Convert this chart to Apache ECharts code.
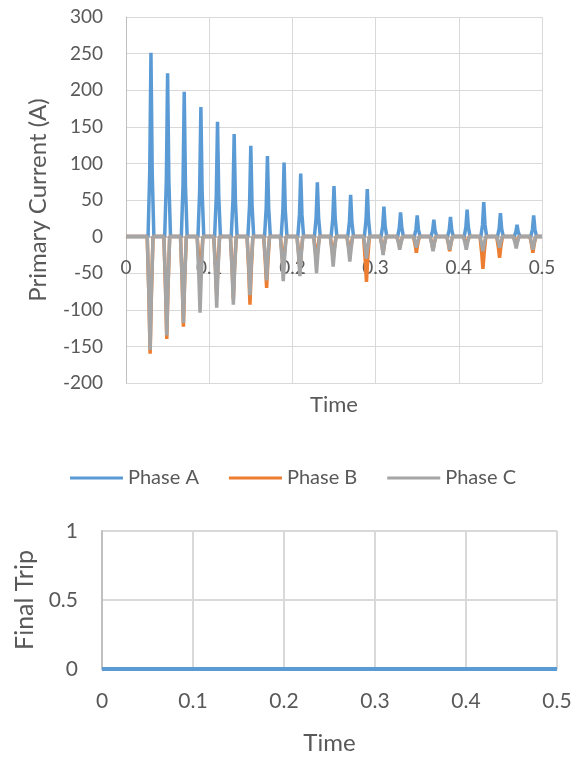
<!DOCTYPE html>
<html style="height: 100%">
   <head>
       <meta charset="utf-8">
   </head>
   <body style="height: 100%;margin: 0;background: #ffffff">
       <div id="container" style="height: 758px; width: 577px;"></div>
       <script type="text/javascript" src="https://cdn.jsdelivr.net/npm/echarts/dist/echarts.min.js"></script>
       <script type="text/javascript">

// phase A : time (s) and primary current (A)
var timeA = [0,
    0.0265, 0.0285, 0.030, 0.0315, 0.0335,
    0.0465, 0.0485, 0.050, 0.0515, 0.0535,
    0.0665, 0.0685, 0.070, 0.0715, 0.0735,
    0.0865, 0.0885, 0.090, 0.0915, 0.0935,
    0.1065, 0.1085, 0.110, 0.1115, 0.1135,
    0.1265, 0.1285, 0.130, 0.1315, 0.1335,
    0.1465, 0.1485, 0.150, 0.1515, 0.1535,
    0.1665, 0.1685, 0.170, 0.1715, 0.1735,
    0.1865, 0.1885, 0.190, 0.1915, 0.1935,
    0.2065, 0.2085, 0.210, 0.2115, 0.2135,
    0.2265, 0.2285, 0.230, 0.2315, 0.2335,
    0.2465, 0.2485, 0.250, 0.2515, 0.2535,
    0.2665, 0.2685, 0.270, 0.2715, 0.2735,
    0.2865, 0.2885, 0.290, 0.2915, 0.2935,
    0.3065, 0.3085, 0.310, 0.3115, 0.3135,
    0.3265, 0.3285, 0.330, 0.3315, 0.3335,
    0.3465, 0.3485, 0.350, 0.3515, 0.3535,
    0.3665, 0.3685, 0.370, 0.3715, 0.3735,
    0.3865, 0.3885, 0.390, 0.3915, 0.3935,
    0.4065, 0.4085, 0.410, 0.4115, 0.4135,
    0.4265, 0.4285, 0.430, 0.4315, 0.4335,
    0.4465, 0.4485, 0.450, 0.4515, 0.4535,
    0.4665, 0.4685, 0.470, 0.4715, 0.4735,
    0.4865, 0.4885, 0.490, 0.4915, 0.4935,
    0.5];
var currentA = [0,
    0, 88, 251, 88, 0,
    0, 78, 223, 78, 0,
    0, 69, 198, 69, 0,
    0, 62, 177, 62, 0,
    0, 55, 157, 55, 0,
    0, 49, 140, 49, 0,
    0, 43, 124, 43, 0,
    0, 39, 110, 39, 0,
    0, 35, 101, 35, 0,
    0, 30, 86, 30, 0,
    0, 26, 74, 26, 0,
    0, 24, 69, 24, 0,
    0, 20, 57, 20, 0,
    0, 23, 65, 23, 0,
    0, 14, 41, 14, 0,
    0, 12, 33, 12, 0,
    0, 10, 29, 10, 0,
    0, 8, 23, 8, 0,
    0, 9, 27, 9, 0,
    0, 13, 37, 13, 0,
    0, 16, 47, 16, 0,
    0, 11, 32, 11, 0,
    0, 6, 16, 6, 0,
    0, 10, 29, 10, 0,
    0];

// phases B and C share one time base
var timeBC = [0,
    0.0255, 0.0275, 0.029, 0.0305, 0.0325,
    0.0455, 0.0475, 0.049, 0.0505, 0.0525,
    0.0655, 0.0675, 0.069, 0.0705, 0.0725,
    0.0855, 0.0875, 0.089, 0.0905, 0.0925,
    0.1055, 0.1075, 0.109, 0.1105, 0.1125,
    0.1255, 0.1275, 0.129, 0.1305, 0.1325,
    0.1455, 0.1475, 0.149, 0.1505, 0.1525,
    0.1655, 0.1675, 0.169, 0.1705, 0.1725,
    0.1855, 0.1875, 0.189, 0.1905, 0.1925,
    0.2055, 0.2075, 0.209, 0.2105, 0.2125,
    0.2255, 0.2275, 0.229, 0.2305, 0.2325,
    0.2455, 0.2475, 0.249, 0.2505, 0.2525,
    0.2655, 0.2675, 0.269, 0.2705, 0.2725,
    0.2855, 0.2875, 0.289, 0.2905, 0.2925,
    0.3055, 0.3075, 0.309, 0.3105, 0.3125,
    0.3255, 0.3275, 0.329, 0.3305, 0.3325,
    0.3455, 0.3475, 0.349, 0.3505, 0.3525,
    0.3655, 0.3675, 0.369, 0.3705, 0.3725,
    0.3855, 0.3875, 0.389, 0.3905, 0.3925,
    0.4055, 0.4075, 0.409, 0.4105, 0.4125,
    0.4255, 0.4275, 0.429, 0.4305, 0.4325,
    0.4455, 0.4475, 0.449, 0.4505, 0.4525,
    0.4655, 0.4675, 0.469, 0.4705, 0.4725,
    0.4855, 0.4875, 0.489, 0.4905, 0.4925,
    0.5];
var currentB = [0,
    0, -80, -160, -80, 0,
    0, -70, -140, -70, 0,
    0, -60, -123, -60, 0,
    0, -30, -60, -30, 0,
    0, -40, -80, -40, 0,
    0, -42, -85, -42, 0,
    0, -46, -93, -46, 0,
    0, -35, -70, -35, 0,
    0, -22, -45, -22, 0,
    0, -22, -45, -22, 0,
    0, -17, -35, -17, 0,
    0, -15, -30, -15, 0,
    0, -12, -25, -12, 0,
    0, -31, -62, -31, 0,
    0, -11, -22, -11, 0,
    0, -7, -15, -7, 0,
    0, -11, -22, -11, 0,
    0, -9, -18, -9, 0,
    0, -10, -20, -10, 0,
    0, -6, -12, -6, 0,
    0, -22, -44, -22, 0,
    0, -14, -29, -14, 0,
    0, -5, -10, -5, 0,
    0, -11, -22, -11, 0,
    0];
var currentC = [0,
    0, -78, -155, -78, 0,
    0, -68, -135, -68, 0,
    0, -59, -118, -59, 0,
    0, -52, -104, -52, 0,
    0, -48, -97, -48, 0,
    0, -46, -93, -46, 0,
    0, -40, -80, -40, 0,
    0, -30, -60, -30, 0,
    0, -30, -61, -30, 0,
    0, -27, -54, -27, 0,
    0, -25, -50, -25, 0,
    0, -20, -41, -20, 0,
    0, -17, -34, -17, 0,
    0, -15, -30, -15, 0,
    0, -12, -25, -12, 0,
    0, -9, -18, -9, 0,
    0, -7, -15, -7, 0,
    0, -10, -20, -10, 0,
    0, -9, -18, -9, 0,
    0, -9, -18, -9, 0,
    0, -10, -20, -10, 0,
    0, -7, -15, -7, 0,
    0, -8, -16, -8, 0,
    0, -9, -18, -9, 0,
    0];

// final trip signal
var timeTrip = [0, 0.5];
var finalTrip = [0, 0];

var xTicks = [0, 0.1, 0.2, 0.3, 0.4, 0.5];

function pairs(t, v) {
    var out = [];
    for (var i = 0; i < t.length; i++) {
        out.push([t[i], v[i]]);
    }
    return out;
}

var dom = document.getElementById("container");
var myChart = echarts.init(dom);
var font = 'Lato, sans-serif';
var textColor = '#595959';
var gridColor = '#d9d9d9';
var axisColor = '#bfbfbf';

var option = {
    animation: false,
    backgroundColor: '#ffffff',
    textStyle: { fontFamily: font },
    legend: {
        data: ['Phase A', 'Phase B', 'Phase C'],
        left: 65,
        top: 463,
        icon: 'rect',
        itemWidth: 53,
        itemHeight: 3,
        itemGap: 30,
        textStyle: { color: textColor, fontSize: 20, fontFamily: font }
    },
    grid: [
        { left: 126, top: 17, width: 416, height: 366 },
        { left: 102, top: 531, width: 455, height: 138 }
    ],
    xAxis: [{
        gridIndex: 0,
        type: 'value',
        min: xTicks[0],
        max: xTicks[xTicks.length - 1],
        interval: 0.1,
        // axis sits on the zero line of the current axis
        offset: -146,
        name: 'Time',
        nameLocation: 'middle',
        nameGap: 157,
        nameTextStyle: { color: textColor, fontSize: 22 },
        axisLine: { onZero: false, lineStyle: { color: axisColor } },
        axisTick: { show: false },
        axisLabel: { color: textColor, fontSize: 19, margin: 21 },
        splitLine: { lineStyle: { color: gridColor } }
    }, {
        gridIndex: 1,
        type: 'value',
        min: xTicks[0],
        max: xTicks[xTicks.length - 1],
        interval: 0.1,
        name: 'Time',
        nameLocation: 'middle',
        nameGap: 62,
        nameTextStyle: { color: textColor, fontSize: 24 },
        axisLine: { onZero: false, lineStyle: { color: axisColor } },
        axisTick: { show: false },
        axisLabel: { color: textColor, fontSize: 21, margin: 22 },
        splitLine: { lineStyle: { color: gridColor, width: 2 } }
    }],
    yAxis: [{
        gridIndex: 0,
        type: 'value',
        min: -200,
        max: 300,
        interval: 50,
        name: 'Primary Current (A)',
        nameLocation: 'middle',
        nameGap: 76,
        nameTextStyle: { color: textColor, fontSize: 24 },
        axisLine: { show: true, onZero: false, lineStyle: { color: axisColor } },
        axisTick: { show: false },
        axisLabel: { color: textColor, fontSize: 19, margin: 23 },
        splitLine: { lineStyle: { color: gridColor } }
    }, {
        gridIndex: 1,
        type: 'value',
        min: 0,
        max: 1,
        interval: 0.5,
        name: 'Final Trip',
        nameLocation: 'middle',
        nameGap: 64,
        nameTextStyle: { color: textColor, fontSize: 25 },
        axisLine: { show: true, onZero: false, lineStyle: { color: axisColor, width: 2 } },
        axisTick: { show: false },
        axisLabel: { color: textColor, fontSize: 21, margin: 24 },
        splitLine: { lineStyle: { color: gridColor, width: 2 } }
    }],
    series: [{
        name: 'Phase A',
        type: 'line',
        xAxisIndex: 0,
        yAxisIndex: 0,
        showSymbol: false,
        color: '#5b9bd5',
        lineStyle: { width: 3.5, color: '#5b9bd5' },
        data: pairs(timeA, currentA)
    }, {
        name: 'Phase B',
        type: 'line',
        xAxisIndex: 0,
        yAxisIndex: 0,
        showSymbol: false,
        color: '#ed7d31',
        lineStyle: { width: 3.5, color: '#ed7d31' },
        data: pairs(timeBC, currentB)
    }, {
        name: 'Phase C',
        type: 'line',
        xAxisIndex: 0,
        yAxisIndex: 0,
        showSymbol: false,
        color: '#a5a5a5',
        lineStyle: { width: 3.5, color: '#a5a5a5' },
        data: pairs(timeBC, currentC)
    }, {
        name: 'Final Trip',
        type: 'line',
        xAxisIndex: 1,
        yAxisIndex: 1,
        showSymbol: false,
        color: '#5b9bd5',
        lineStyle: { width: 4, color: '#5b9bd5' },
        data: pairs(timeTrip, finalTrip)
    }]
};

myChart.setOption(option, true);

       </script>
   </body>
</html>
